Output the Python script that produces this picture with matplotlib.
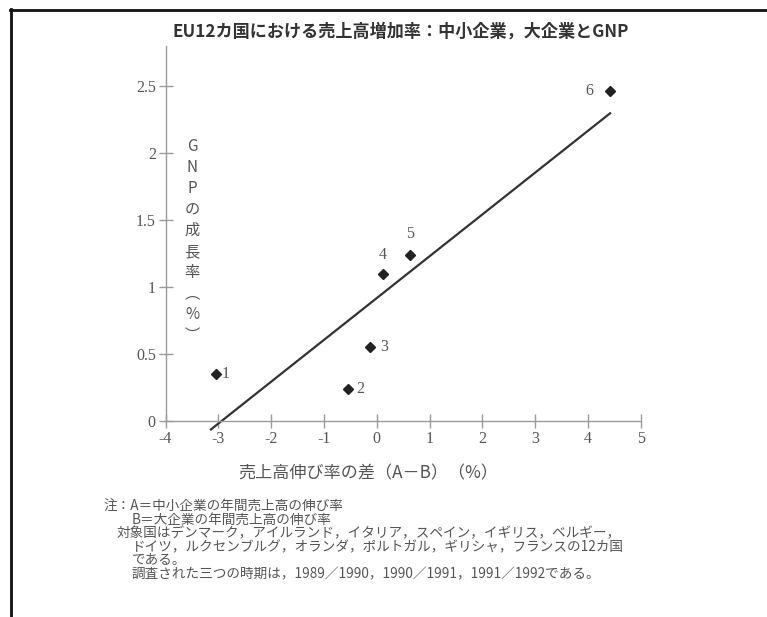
import numpy as np
import matplotlib
matplotlib.use("Agg")
import matplotlib.pyplot as plt
from matplotlib.lines import Line2D

plt.rcParams['font.family'] = ['Noto Sans CJK JP', 'DejaVu Sans']

# ---- data ----
point_ids = ["1", "2", "3", "4", "5", "6"]
sales_diff = [-3.05, -0.55, -0.13, 0.11, 0.63, 4.41]   # A-B (%)
gnp_growth = [0.35, 0.24, 0.55, 1.10, 1.24, 2.465]     # GNP growth (%)
fit_x_range = [-3.14, 4.42]
x_ticks = [-4, -3, -2, -1, 0, 1, 2, 3, 4, 5]
y_ticks = [0, 0.5, 1, 1.5, 2, 2.5]
y_tick_labels = ["0", "0.5", "1", "1.5", "2", "2.5"]

title = "EU12カ国における売上高増加率：中小企業，大企業とGNP"
xlabel = "売上高伸び率の差（A－B）（%）"
ylabel_chars = ["G", "N", "P", "の", "成", "長", "率", "︵", "%", "︶"]
notes = [
    ("注：A＝中小企業の年間売上高の伸び率", 0),
    ("B＝大企業の年間売上高の伸び率", 2),
    ("対象国はデンマーク，アイルランド，イタリア，スペイン，イギリス，ベルギー，", 1),
    ("ドイツ，ルクセンブルグ，オランダ，ポルトガル，ギリシャ，フランスの12カ国", 2),
    ("である。", 2),
    ("調査された三つの時期は，1989／1990，1990／1991，1991／1992である。", 2),
]
# label offsets (pixels) for the point numbers
label_offsets = [(10, 0), (13, 0), (14, 0), (0, 19), (0, 21), (-20, 0)]

W, H = 767, 617
fig = plt.figure(figsize=(W / 100, H / 100), dpi=100)
fig.patch.set_facecolor("white")

ax = fig.add_axes([165.5 / W, 196 / H, 475.2 / W, (421 - 45.8) / H])
ax.set_xlim(-4, 5)
ax.set_ylim(0, 2.8)
for s in ["top", "right"]:
    ax.spines[s].set_visible(False)
for s in ["left", "bottom"]:
    ax.spines[s].set_color("#9a9a9a")
    ax.spines[s].set_linewidth(1.0)

ax.set_xticks(x_ticks)
ax.set_xticklabels([str(t) for t in x_ticks])
ax.set_yticks(y_ticks)
ax.set_yticklabels(y_tick_labels)
ax.tick_params(direction="inout", length=10, width=1.0, color="#9a9a9a",
               labelcolor="#555555", labelsize=11.5, pad=2)
for lab in ax.get_xticklabels() + ax.get_yticklabels():
    lab.set_family(["Liberation Serif", "DejaVu Serif"])

# regression line
coef = np.polyfit(sales_diff, gnp_growth, 1)
fx = np.array(fit_x_range)
ax.plot(fx, np.polyval(coef, fx), color="#333333", lw=1.6, clip_on=False)

# points
ax.plot(sales_diff, gnp_growth, linestyle="none", marker="D", markersize=5.5,
        color="#222222", clip_on=False)
for pid, x, y, off in zip(point_ids, sales_diff, gnp_growth, label_offsets):
    ax.annotate(pid, (x, y), xytext=off, textcoords="offset pixels",
                ha="center", va="center", fontsize=11.5, color="#555555",
                family=["Liberation Serif", "DejaVu Serif"])

# y label (vertical stacked text inside the axes)
ax.text(0.056, 0.48, "\n".join(ylabel_chars), transform=ax.transAxes,
        ha="center", va="center", fontsize=11, color="#555555",
        linespacing=1.3)

# x label
fig.text(368 / W, 1 - 473 / H, xlabel, ha="center", va="center",
         fontsize=12.3, color="#555555")

# title
fig.text(401 / W, 1 - 32 / H, title, ha="center", va="center",
         fontsize=12.3, color="#333333", weight="bold")

# notes
indent_px = {0: 103, 1: 117, 2: 132}
note_y = [507, 520, 533, 547, 560, 574]
for (txt, ind), yy in zip(notes, note_y):
    fig.text(indent_px[ind] / W, 1 - yy / H, txt, ha="left", va="center",
             fontsize=9.8, color="#555555")

# frame lines
fig.add_artist(Line2D([10 / W, 1.0], [1 - 9.5 / H, 1 - 9.5 / H],
                      color="#111111", lw=2.0, transform=fig.transFigure))
fig.add_artist(Line2D([10.5 / W, 10.5 / W], [1 - 9 / H, 0.0],
                      color="#111111", lw=2.0, transform=fig.transFigure))

fig.savefig("out.png", dpi=100)
